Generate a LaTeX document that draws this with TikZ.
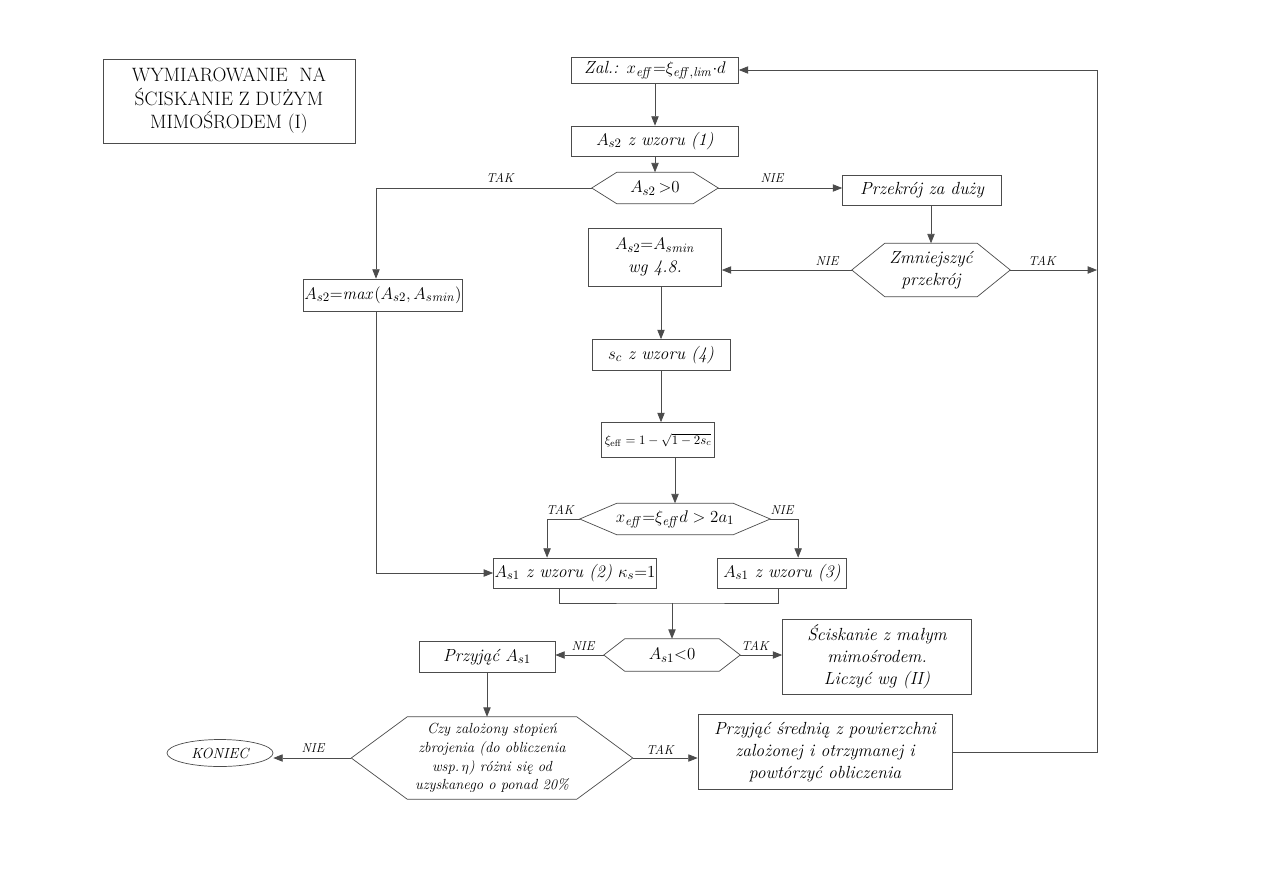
\documentclass[tikz,border=0pt]{standalone}
\usepackage{amsmath,amssymb}
\usepackage{tikz}
\usetikzlibrary{arrows.meta,positioning,calc,shapes.geometric}

% hexagonal decision outline around an invisible node
\newcommand{\hexa}[2]{%
  \draw[lin] (#1.west) -- ([shift={(#2,0)}]#1.north west) -- ([shift={(-#2,0)}]#1.north east)
    -- (#1.east) -- ([shift={(-#2,0)}]#1.south east) -- ([shift={(#2,0)}]#1.south west) -- cycle;}

\begin{document}
\begin{tikzpicture}[x=0.03cm,y=-0.03cm,>={Triangle[length=2.8mm,width=2.2mm]},
  lin/.style={draw=black!70,line width=0.6pt},
  arr/.style={lin,->},
  box/.style={draw=black!70,line width=0.6pt,inner sep=1pt,align=center,
    font=\fontsize{15}{19}\selectfont\itshape},
  dec/.style={inner sep=0pt,align=center,font=\fontsize{15}{19}\selectfont\itshape},
  lab/.style={inner sep=1pt,font=\fontsize{11}{13}\selectfont\itshape}]
  \useasboundingbox[fill=white] (0,0) rectangle (1263,893);

  % title
  \node[box,font=\fontsize{16.5}{20}\selectfont,minimum width=7.56cm,minimum height=2.52cm]
    (title) at (229,101) {WYMIAROWANIE\ \ NA\\ŚCISKANIE Z DUŻYM\\MIMOŚRODEM (I)};

  % main column
  \node[box,minimum width=5.01cm,minimum height=0.78cm] (zal) at (655,70)
    {Zal.: $x_{\mathit{eff}}{=}\xi_{\mathit{eff,lim}}{\cdot}d$};
  \node[box,minimum width=5.01cm,minimum height=0.9cm] (as2w) at (655,141) {$A_{s2}$ z wzoru (1)};
  \node[dec,minimum width=3.78cm,minimum height=0.93cm] (d1) at (655,188) {$A_{s2}\,{>}0$};
  \hexa{d1}{25}
  \node[box,minimum width=4.77cm,minimum height=0.9cm] (za) at (922,190) {Przekrój za duży};
  \node[dec,minimum width=4.74cm,minimum height=1.59cm] (d2) at (931,270) {Zmniejszyć\\przekrój};
  \hexa{d2}{33}
  \node[box,minimum width=3.99cm,minimum height=1.74cm] (asmin) at (655,257)
    {$A_{s2}{=}A_{s\mathit{min}}$\\wg 4.8.};
  \node[box,minimum width=4.77cm,minimum height=0.96cm] (max) at (383,295)
    {$A_{s2}{=}\mathit{max}(A_{s2},A_{s\mathit{min}})$};
  \node[box,minimum width=4.14cm,minimum height=0.93cm] (sc) at (661,355) {$s_c$ z wzoru (4)};
  \node[box,font=\fontsize{11}{13}\selectfont,minimum width=3.39cm,minimum height=1.05cm] (xi) at (658,440)
    {$\xi_{\mathrm{eff}}=1-\sqrt{1-2s_{c}}$};
  \node[dec,minimum width=5.7cm,minimum height=0.93cm] (d3) at (675,519)
    {$x_{\mathit{eff}}{=}\xi_{\mathit{eff}}d>2a_1$};
  \hexa{d3}{37}
  \node[box,minimum width=4.8cm,minimum height=0.9cm] (as1a) at (575,573)
    {$A_{s1}$ z wzoru (2) $\kappa_s{=}1$};
  \node[box,minimum width=3.87cm,minimum height=0.9cm] (as1b) at (782,573) {$A_{s1}$ z wzoru (3)};
  \coordinate (join) at (672,603);
  \node[dec,minimum width=4.08cm,minimum height=0.96cm] (d4) at (672,655) {$A_{s1}{<}0$};
  \hexa{d4}{21}
  \node[box,minimum width=4.08cm,minimum height=0.93cm] (przyjac) at (487,657) {Przyjąć $A_{s1}$};
  \node[box,minimum width=5.67cm,minimum height=2.25cm] (scisk) at (877,657)
    {Ściskanie z małym\\mimośrodem.\\Liczyć wg (II)};
  \node[dec,font=\fontsize{12.5}{16}\selectfont\itshape,minimum width=8.43cm,minimum height=2.46cm]
    (d5) at (492,758) {Czy zalożony stopień\\zbrojenia (do obliczenia\\wsp.\,$\eta$) różni się od\\uzyskanego o ponad 20\%};
  \hexa{d5}{56}
  \node[ellipse,draw=black!70,line width=0.6pt,inner sep=0pt,minimum width=3.18cm,minimum height=0.81cm,
    font=\fontsize{12.5}{15}\selectfont\itshape] (koniec) at (220,753) {KONIEC};
  \node[box,minimum width=7.62cm,minimum height=2.25cm] (srednia) at (825,752)
    {Przyjąć średnią z powierzchni\\zalożonej i otrzymanej i\\powtórzyć obliczenia};
  \coordinate (ret) at (1097,270);

  % connectors
  \draw[arr] (zal) -- (as2w);
  \draw[arr] (as2w) -- (d1);
  \draw[arr] (d1.west) -| ([shift={(-7,0)}]max.north);
  \draw[arr] (d1.east) -- (d1.east -| za.west);
  \draw[arr] (d2.north |- za.south) -- (d2.north);
  \draw[arr] (d2.west) -- (d2.west -| asmin.east);
  \draw[arr] (d2.east) -- (ret);
  \draw[arr] (asmin.south -| sc.north) -- (sc.north);
  \draw[arr] (sc) -- (sc.south |- xi.north);
  \draw[arr] (xi.south -| d3.north) -- (d3.north);
  \draw[arr] (d3.west) -| ([shift={(54,0)}]as1a.north west);
  \draw[arr] (d3.east) -| ([shift={(81,0)}]as1b.north west);
  \draw[arr] ([shift={(-7,0)}]max.south) |- (as1a.west);
  \draw[lin] ([shift={(66,0)}]as1a.south west) |- (join) -| ([shift={(61,0)}]as1b.south west);
  \draw[arr] (join) -- (d4.north);
  \draw[arr] (d4.west) -- (d4.west -| przyjac.east);
  \draw[arr] (d4.east) -- (d4.east -| scisk.west);
  \draw[arr] (przyjac.south) -- (przyjac.south |- d5.north);
  \draw[arr] (d5.west) -- (d5.west -| koniec.east);
  \draw[arr] (d5.east) -- (d5.east -| srednia.west);
  \draw[arr] (srednia.east) -- (srednia.east -| ret) |- (zal.east);

  % branch labels
  \node[lab] (tak1) at (500,178) {TAK};
  \node[lab] (nie1) at (772,178) {NIE};
  \node[lab] (nie2) at (827,261) {NIE};
  \node[lab] (tak2) at (1042,261) {TAK};
  \node[lab] (tak3) at (560,510) {TAK};
  \node[lab] (nie3) at (782,510) {NIE};
  \node[lab] (nie4) at (583,646) {NIE};
  \node[lab] (tak4) at (755,646) {TAK};
  \node[lab] (nie5) at (313,748) {NIE};
  \node[lab] (tak5) at (660,750) {TAK};
\end{tikzpicture}
\end{document}
